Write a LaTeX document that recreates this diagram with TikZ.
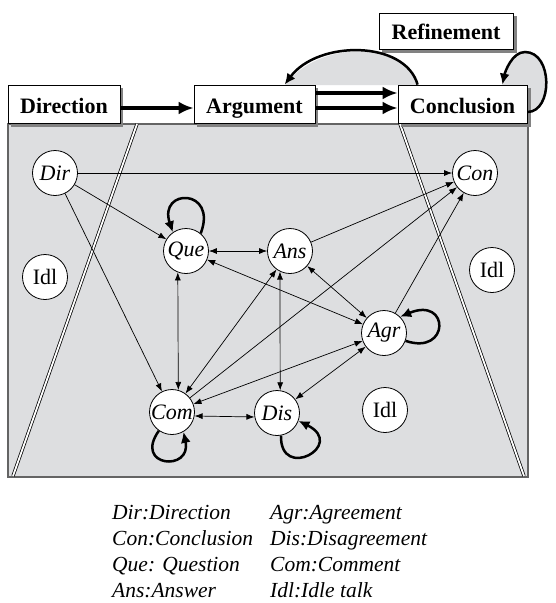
\documentclass[tikz,border=0pt]{standalone}
\usepackage{fontspec}
\setmainfont{Liberation Serif}
\usetikzlibrary{arrows.meta,calc}
\definecolor{bgray}{RGB}{221,222,224}
\definecolor{sgray}{RGB}{130,130,130}
\definecolor{edgegray}{RGB}{100,100,100}
\begin{document}
\begin{tikzpicture}[x=1pt,y=-1pt,
  stage/.style={draw=black, line width=0.8pt, fill=white, minimum height=38pt, inner sep=0pt,
    text height=18pt, text depth=0pt,
    font=\fontsize{22}{26}\selectfont\bfseries},
  shadowbox/.style={fill=sgray},
  st/.style={circle, draw=black, line width=0.8pt, fill=white, minimum size=45pt, inner sep=0pt,
    font=\fontsize{22}{26}\selectfont\itshape},
  idl/.style={st, font=\fontsize{22}{26}\selectfont\upshape},
  sa/.style={-{Latex[length=8pt,width=6pt]}, line width=0.7pt},
  da/.style={{Latex[length=8pt,width=6pt]}-{Latex[length=8pt,width=6pt]}, line width=0.7pt},
  big/.style={-{Latex[length=15pt,width=13pt]}, line width=3.5pt},
  lp/.style={-{Latex[length=11pt,width=10pt]}, line width=2.5pt},
  dbl/.style={draw=black, line width=0.75pt, double=white, double distance=1.8pt},
  leg/.style={anchor=base west, inner sep=0pt, font=\fontsize{21.5}{26}\selectfont\itshape}]

\useasboundingbox (0,0) rectangle (555,603);
\fill[white] (0,0) rectangle (555,603);

% background panel
\draw[edgegray, line width=1.4pt, fill=bgray] (8,124) rectangle (528,477);

% gray interiors of the upper arcs
\fill[bgray] (418,85) .. controls (405,40) and (318,40) .. (285,85) -- cycle;
\fill[bgray] (527,112) .. controls (553,112) and (553,52) .. (525,52)
  .. controls (512,52) and (505,72) .. (502,85) -- (527,85) -- cycle;

% trapezoid double lines
\draw[dbl] (13,476) -- (137,124);
\draw[dbl] (400,124) -- (524,476);

% box shadows
\fill[shadowbox] (11,88) rectangle (123,126.5);
\fill[shadowbox] (197,88) rectangle (318,126.5);
\fill[shadowbox] (401,88) rectangle (530.5,126.5);
\fill[shadowbox] (382,16) rectangle (516.5,52.5);

% stage boxes
\node[stage, minimum width=112pt] (Dirbox) at (64,104) {Direction};
\node[stage, minimum width=121pt] (Arg) at (254.5,104) {Argument};
\node[stage, minimum width=129pt] (Concl) at (462.5,104) {Conclusion};
\node[stage, minimum width=134pt, minimum height=36pt, text height=16pt] (Ref) at (446,31) {Refinement};

% stage arrows
\draw[big] ($(Dirbox.east)+(0,4)$) -- ($(Arg.west)+(0,4)$);
\draw[big] ($(Arg.east)+(0,-11)$) -- ($(Concl.west)+(0,-11)$);
\draw[big] ($(Arg.east)+(0,4)$) -- ($(Concl.west)+(0,4)$);
\coordinate (cs) at ($(Concl.north west)+(20,0)$);
\coordinate (ae) at ($(Arg.north west)+(91,0)$);
\draw[lp] (cs) .. controls (405,40) and (318,40) .. (ae);
\coordinate (ls) at ($(Concl.east)+(0,8)$);
\coordinate (le) at ($(Concl.north east)+(-25,0)$);
\draw[lp] (ls) .. controls (553,112) and (553,52) .. (525,52)
  .. controls (512,52) and (505,72) .. (le);

% state nodes
\node[st] (Dir) at (55,173) {Dir};
\node[st] (Con) at (475,173) {Con};
\node[st] (Que) at (186,251) {Que};
\node[st] (Ans) at (290,251) {Ans};
\node[st] (Agr) at (384,333) {Agr};
\node[st] (Com) at (172,412) {Com};
\node[st] (Dis) at (277,413) {Dis};
\node[idl] (IdlL) at (45,277) {Idl};
\node[idl] (IdlR) at (492,270) {Idl};
\node[idl] (IdlB) at (385,410) {Idl};

% transitions
\draw[sa] (Dir) -- (Con);
\draw[sa] (Dir) -- (Que);
\draw[sa] (Dir) -- (Com);
\draw[da] (Que) -- (Ans);
\draw[da] (Que.-111) -- (Com.74);
\draw[da] (Que) -- (Agr);
\draw[da] (Ans.-116) -- (Dis.82);
\draw[da] (Ans) -- (Agr);
\draw[da] (Ans) -- (Com);
\draw[sa] (Ans) -- (Con);
\draw[sa] (Com) -- (Con);
\draw[sa] (Agr) -- (Con);
\draw[da] (Com) -- (Agr);
\draw[da] (Com.-10) -- (Dis.190);
\draw[da] (Agr) -- (Dis);

% self loops
\draw[lp] (Que.50) .. controls (218,188) and (158,188) .. (Que.125);
\draw[lp] (Agr.-20) .. controls (450,356) and (450,296) .. (Agr.45);
\draw[lp] (Com.-125) .. controls (133,467) and (192,472) .. (Com.-60);
\draw[lp] (Dis.-80) .. controls (280,482) and (347,445) .. (Dis.-20);

% legend
\node[leg] (l1) at (112,519) {Dir:Direction};
\node[leg] (l2) at (270,519) {Agr:Agreement};
\node[leg] (l3) at (112,545) {Con:Conclusion};
\node[leg] (l4) at (270,545) {Dis:Disagreement};
\node[leg] (l5) at (112,571) {Que: Question};
\node[leg] (l6) at (270,571) {Com:Comment};
\node[leg] (l7) at (112,597) {Ans:Answer};
\node[leg] (l8) at (270,597) {Idl:Idle talk};
\end{tikzpicture}
\end{document}
